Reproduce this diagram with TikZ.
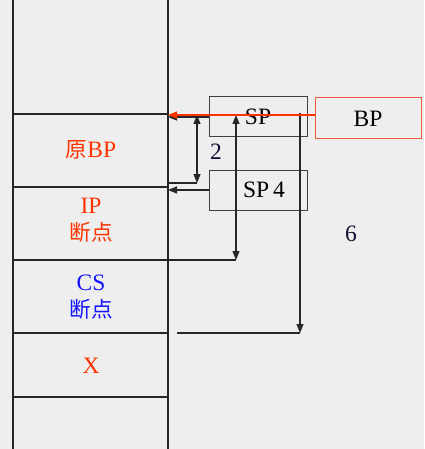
\documentclass[tikz,border=0pt]{standalone}
\usepackage{fontspec}
\setmainfont{Liberation Serif}
\newfontfamily\cjk{Noto Sans CJK SC}[Scale=0.92]
\usetikzlibrary{arrows.meta}
\definecolor{bg}{RGB}{238,238,238}
\definecolor{redt}{RGB}{255,51,0}
\definecolor{bluet}{RGB}{20,20,255}
\definecolor{boxred}{RGB}{240,90,60}
\definecolor{navy}{RGB}{15,15,50}
\begin{document}
\begin{tikzpicture}[x=1pt,y=-1pt,
  stackline/.style={line width=1.2pt, black!85},
  ptr/.style={line width=1.1pt, black!85},
  tip/.style={-{Triangle[length=9pt,width=7pt]}},
  tips/.style={{Triangle[length=9pt,width=7pt]}-{Triangle[length=9pt,width=7pt]}},
  redline/.style={line width=1.2pt, redt},
  regbox/.style={draw=black!75, line width=1pt, minimum width=98pt, minimum height=40pt, inner sep=0pt, font=\fontsize{23.5}{26}\selectfont},
  lbl/.style={font=\fontsize{23.5}{27}\selectfont, align=center, inner sep=0pt}]
\fill[bg] (0,0) rectangle (424,449);
\useasboundingbox (0,0) rectangle (424,449);
% stack
\coordinate (TL) at (13,0);
\coordinate (TR) at (168,0);
\coordinate (BL) at (13,449);
\coordinate (BR) at (168,449);
\draw[stackline] (TL) -- (BL);
\draw[stackline] (TR) -- (BR);
\foreach \y in {114,187,260,333,397} {
  \draw[stackline] (13,\y) -- (168,\y);
}
% cell texts
\node[lbl, text=redt] (obp) at (91,150) {{\cjk 原}BP};
\node[lbl, text=redt] (ip) at (91,220) {IP\\{\cjk 断点}};
\node[lbl, text=bluet] (cs) at (91,297) {CS\\{\cjk 断点}};
\node[lbl, text=redt] (xx) at (91,366) {X};
% registers
\node[regbox] (sp) at (258,117) {\raisebox{-2pt}{SP}};
\node[regbox] (sp4) at (258,190) {\hspace*{12pt}\raisebox{-1pt}{SP\,4}};
\node[regbox, draw=boxred, minimum width=106pt, minimum height=41pt] (bp) at (368,118.5) {BP};
\node[lbl, text=navy] (two) at (216,152) {2};
\node[lbl, text=navy] (six) at (351,234) {6};
% connectors
\draw[ptr,tip] (sp.west) -- (sp.west -| TR);
\draw[ptr,tip] (sp4.west) -- (sp4.west -| TR);
\coordinate (d2t) at (197,115);
\coordinate (d2b) at (197,183);
\draw[ptr,tips] (d2t) -- (d2b);
\draw[ptr] (d2b) -- (d2b -| TR);
\coordinate (d4t) at (236,115);
\coordinate (d4b) at (236,260);
\draw[ptr,tips] (d4t) -- (d4b);
\draw[ptr] (d4b) -- (d4b -| TR);
\coordinate (d6t) at (300,113);
\coordinate (d6b) at (300,333);
\coordinate (d6s) at (177,333);
\draw[ptr,tip] (d6t) -- (d6b);
\draw[ptr] (d6s) -- (d6b);
\coordinate (rA) at (315,115);
\draw[redline,tip] (bp.west |- rA) -- (rA -| TR);
\end{tikzpicture}
\end{document}
